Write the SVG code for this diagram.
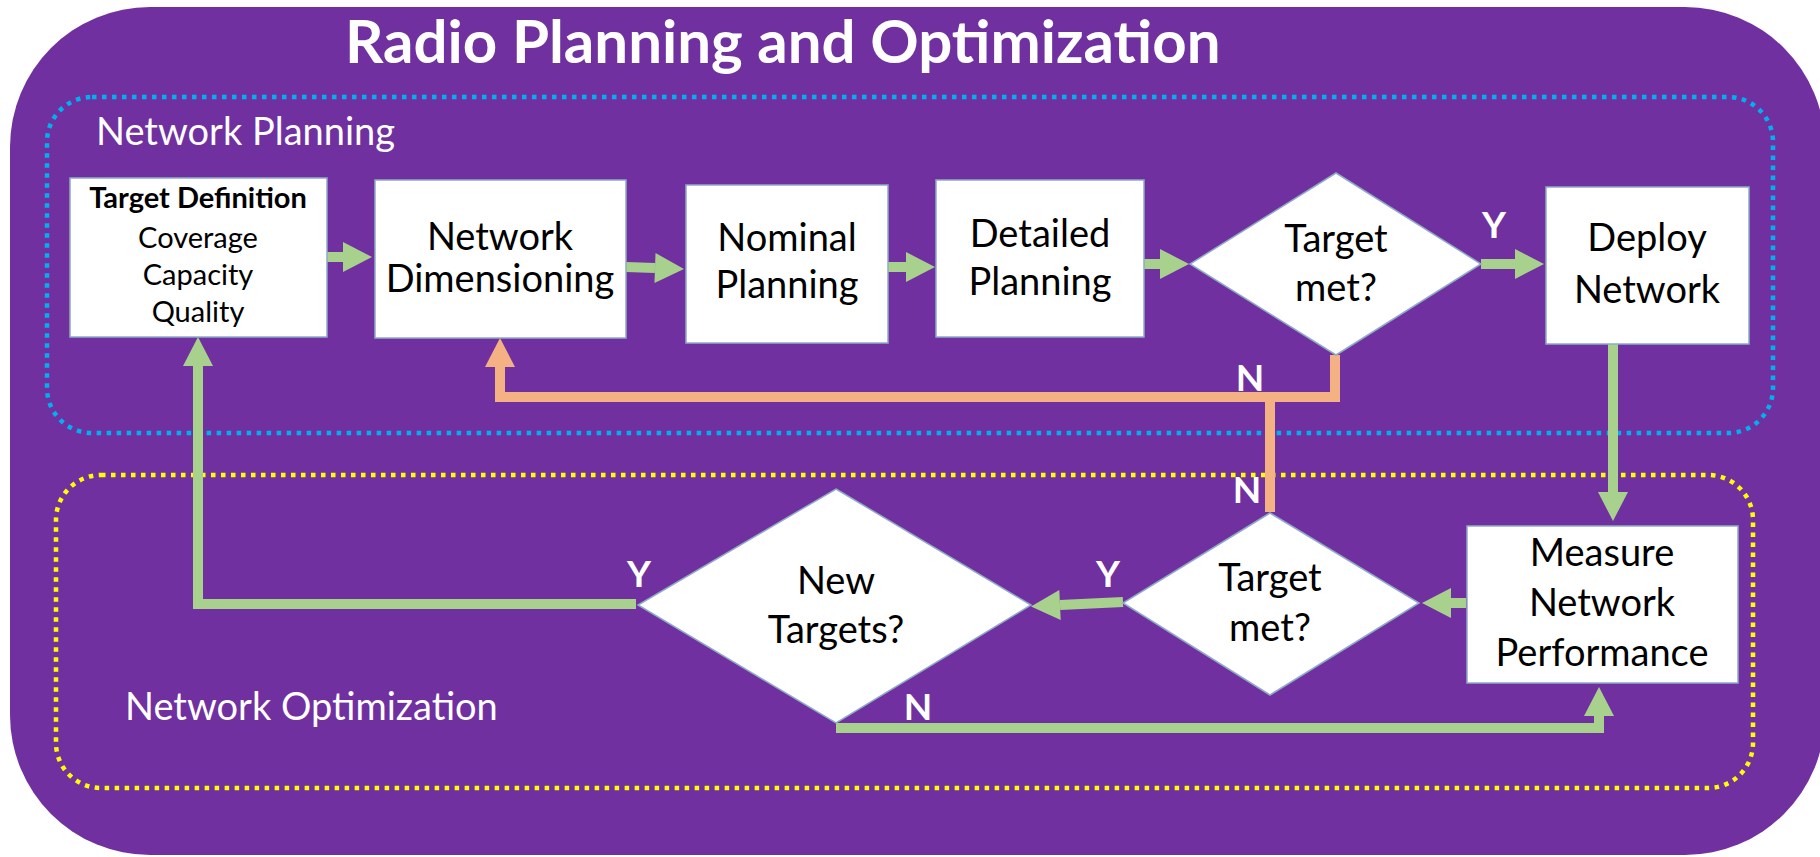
<svg xmlns="http://www.w3.org/2000/svg" width="1820" height="857" viewBox="0 0 1820 857">
<style>
  .bg{fill:#7030A0}
  .box{fill:#FFFFFF;stroke:#8EAAC8;stroke-width:1.5}
  .t{font-family:Lato,"Open Sans",sans-serif;fill:#000000;text-anchor:middle}
  .bt{font-size:38px}
  .td{font-size:29px}
  .lbl{font-family:Lato,"Open Sans",sans-serif;fill:#FFFFFF;font-size:37px;font-weight:bold;text-anchor:middle}
  .sec{font-family:Lato,"Open Sans",sans-serif;fill:#FFFFFF;font-size:38px}
  .g{fill:none;stroke:#A9D18E;stroke-width:10}
  .o{fill:none;stroke:#F4B183;stroke-width:10}
  .dotb{fill:none;stroke:#00B0F0;stroke-width:4.5;stroke-dasharray:4.5 5.5}
  .doty{fill:none;stroke:#FFFF00;stroke-width:4.5;stroke-dasharray:4.5 5.5}
</style>
<defs>
  <marker id="ag" markerUnits="userSpaceOnUse" markerWidth="30" markerHeight="30" refX="0" refY="15" orient="auto" overflow="visible">
    <path d="M0,0 L29,15 L0,30 Z" fill="#A9D18E"/>
  </marker>
  <marker id="ao" markerUnits="userSpaceOnUse" markerWidth="30" markerHeight="30" refX="0" refY="15" orient="auto" overflow="visible">
    <path d="M0,0 L29,15 L0,30 Z" fill="#F4B183"/>
  </marker>
</defs>
<rect class="bg" x="10" y="7" width="1815" height="848" rx="140" ry="140"/>
<text x="345" y="63" font-family="Lato,'Open Sans',sans-serif" font-weight="bold" font-size="60" fill="#FFFFFF">Radio Planning and Optimization</text>
<g id="network-planning-area">
  <rect class="dotb" x="47" y="97" width="1726" height="336" rx="45" ry="45"/>
  <text class="sec" x="96" y="145">Network Planning</text>
</g>
<g id="network-optimization-area">
  <rect class="doty" x="56" y="475" width="1697" height="313" rx="45" ry="45"/>
  <text class="sec" x="125" y="720">Network Optimization</text>
</g>
<g id="connectors">
  <path class="g" d="M327,257 H343" marker-end="url(#ag)"/>
  <path class="g" d="M626,267 L655,268" marker-end="url(#ag)"/>
  <path class="g" d="M888,267 H906" marker-end="url(#ag)"/>
  <path class="g" d="M1144,264 H1160" marker-end="url(#ag)"/>
  <path class="g" d="M1481,264 H1515" marker-end="url(#ag)"/>
  <path class="g" d="M1613,344 V492" marker-end="url(#ag)"/>
  <path class="g" d="M1466,603 H1451" marker-end="url(#ag)"/>
  <path class="g" d="M1123,602 L1060,605" marker-end="url(#ag)"/>
  <path class="g" d="M636,604 H198 V366" marker-end="url(#ag)"/>
  <path class="g" d="M836,728 H1599 V716" marker-end="url(#ag)"/>
  <path class="o" d="M1335,355 V397 H500 V367" marker-end="url(#ao)"/>
  <path class="o" d="M1270,512 V397"/>
  <text class="lbl" x="1494" y="238">Y</text>
  <text class="lbl" x="1250" y="391">N</text>
  <text class="lbl" x="1247" y="503">N</text>
  <text class="lbl" x="1108" y="587">Y</text>
  <text class="lbl" x="639" y="587">Y</text>
  <text class="lbl" x="918" y="720">N</text>
</g>
<g id="target-definition">
  <rect class="box" x="70" y="178" width="257" height="159"/>
  <text class="t" x="198" y="208" font-size="29" font-weight="bold">Target Definition</text>
  <text class="t td" x="198" y="248">Coverage</text>
  <text class="t td" x="198" y="285">Capacity</text>
  <text class="t td" x="198" y="322">Quality</text>
</g>
<g id="network-dimensioning">
  <rect class="box" x="375" y="180" width="251" height="158"/>
  <text class="t bt" x="500" y="250">Network</text>
  <text class="t bt" x="500" y="292">Dimensioning</text>
</g>
<g id="nominal-planning">
  <rect class="box" x="686" y="185" width="202" height="158"/>
  <text class="t bt" x="787" y="251">Nominal</text>
  <text class="t bt" x="787" y="298">Planning</text>
</g>
<g id="detailed-planning">
  <rect class="box" x="936" y="180" width="208" height="157"/>
  <text class="t bt" x="1040" y="247">Detailed</text>
  <text class="t bt" x="1040" y="295">Planning</text>
</g>
<g id="target-met-1">
  <polygon class="box" points="1336,173 1481,264 1336,355 1190,264"/>
  <text class="t bt" x="1336" y="252">Target</text>
  <text class="t bt" x="1336" y="301">met?</text>
</g>
<g id="deploy-network">
  <rect class="box" x="1546" y="187" width="203" height="157"/>
  <text class="t bt" x="1647" y="251">Deploy</text>
  <text class="t bt" x="1647" y="303">Network</text>
</g>
<g id="measure-performance">
  <rect class="box" x="1467" y="526" width="271" height="157"/>
  <text class="t bt" x="1602" y="566">Measure</text>
  <text class="t bt" x="1602" y="616">Network</text>
  <text class="t bt" x="1602" y="666">Performance</text>
</g>
<g id="target-met-2">
  <polygon class="box" points="1270,513 1419,603 1270,695 1123,603"/>
  <text class="t bt" x="1270" y="591">Target</text>
  <text class="t bt" x="1270" y="641">met?</text>
</g>
<g id="new-targets">
  <polygon class="box" points="836,489 1031,605 836,723 638,605"/>
  <text class="t bt" x="836" y="594">New</text>
  <text class="t bt" x="836" y="643">Targets?</text>
</g>
</svg>
